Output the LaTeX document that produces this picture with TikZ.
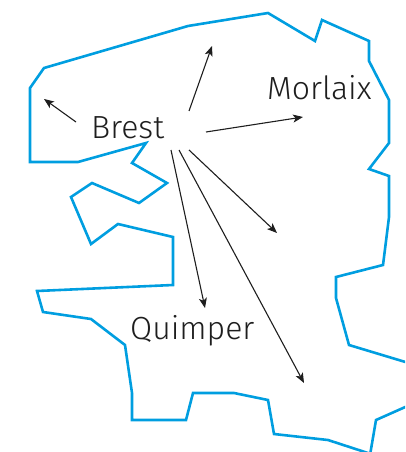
\documentclass[tikz,border=0pt]{standalone}
\usepackage{fontspec}
\setmainfont{Fira Sans Light}
\usetikzlibrary{arrows.meta}
\definecolor{coast}{RGB}{0,158,224}
\definecolor{ink}{RGB}{30,30,30}
\tikzset{
  coastline/.style={draw=coast, line width=2.6pt, line join=miter},
  flow/.style={draw=ink, line width=1.1pt, -{Stealth[length=10pt,width=8pt,inset=2.5pt]}},
  city/.style={text=ink, font=\fontsize{32}{32}\selectfont, anchor=base west, inner sep=0pt}
}
\begin{document}
\begin{tikzpicture}[x=1pt,y=-1pt]
\useasboundingbox (0,0) rectangle (405,452);
\clip (0,0) rectangle (405,452);
% coastline
\draw[coastline] (374,455) -- (328,440) -- (274,434) -- (268,400) -- (234,393) -- (193,393) -- (186,420) -- (132,420) -- (132,393) -- (125,345) -- (91,319) -- (43,312) -- (37,291) -- (173,285) -- (173,237) -- (118,224) -- (91,244) -- (71,197) -- (92,183) -- (139,203) -- (167,183) -- (132,163) -- (146,143) -- (78,162) -- (30,162) -- (30,88) -- (44,68) -- (188,26) -- (268,13) -- (315,41) -- (322,20) -- (369,41) -- (369,61) -- (389,100) -- (389,143) -- (369,169) -- (389,176) -- (389,217) -- (383,265) -- (336,277) -- (336,298) -- (349,345) -- (412,364);
\draw[coastline] (369.5,458) -- (376,420) -- (412,404);
% cities
\node[city] (brest) at (91,138) {Brest};
\node[city] (morlaix) at (267,99) {Morlaix};
\node[city] (quimper) at (130,339) {Quimper};
% arrow ends
\coordinate (s1) at (76,122);  \coordinate (e1) at (44,99);
\coordinate (s2) at (189,111); \coordinate (e2) at (212,46);
\coordinate (s3) at (206,132); \coordinate (e3) at (303,117);
\coordinate (s4) at (171,150); \coordinate (e4) at (205,308);
\coordinate (s5) at (179,150); \coordinate (e5) at (304,383);
\coordinate (s6) at (189,150); \coordinate (e6) at (277,233);
\draw[flow] (s1) -- (e1);
\draw[flow] (s2) -- (e2);
\draw[flow] (s3) -- (e3);
\draw[flow] (s4) -- (e4);
\draw[flow] (s5) -- (e5);
\draw[flow] (s6) -- (e6);
\end{tikzpicture}
\end{document}
